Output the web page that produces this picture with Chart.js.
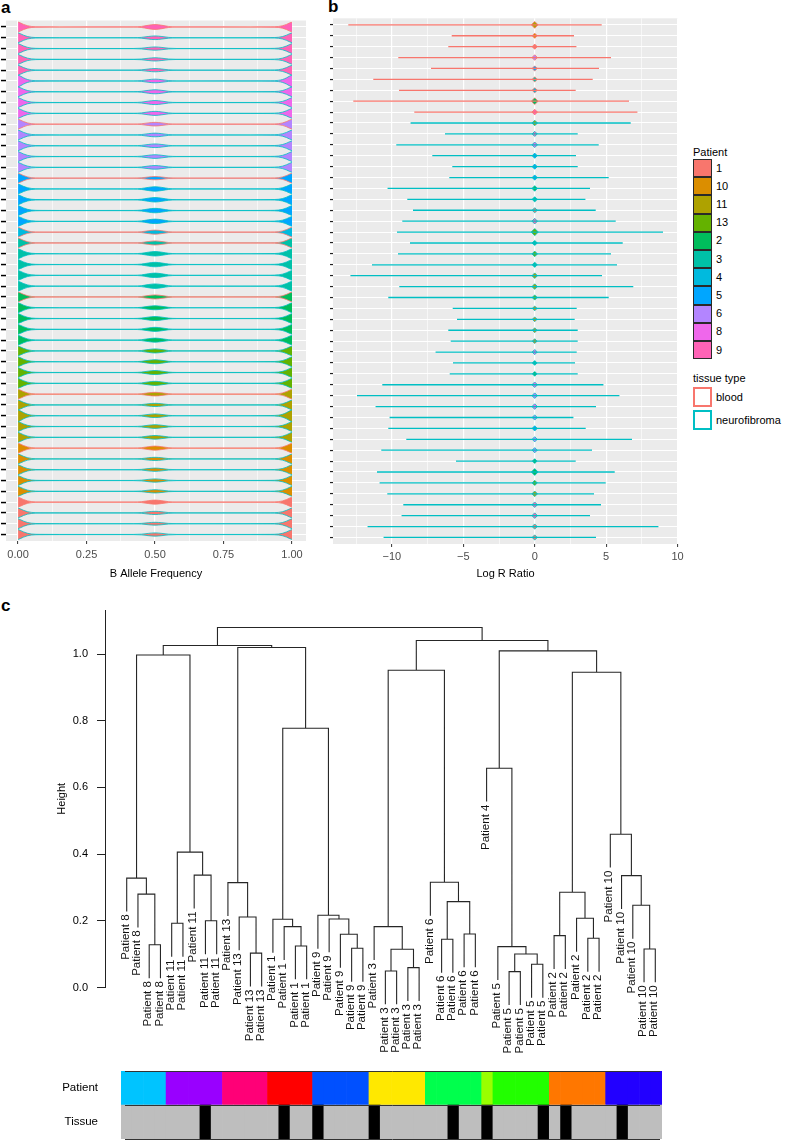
<!DOCTYPE html>
<html>
<head>
<meta charset="utf-8">
<script src="https://cdn.jsdelivr.net/npm/chart.js@4.4.1/dist/chart.umd.min.js"></script>
<style>
  body { margin: 0; width: 787px; height: 1146px; position: relative; background: #fff; overflow: hidden;
         font-family: 'Liberation Sans', Arial, Helvetica, sans-serif; }
  canvas { position: absolute; }
  .tag { position: absolute; font-weight: bold; font-size: 17px; line-height: 1; }
  .lg { position: absolute; font-size: 11px; line-height: 1; color: #000; white-space: nowrap; }
  .key { position: absolute; box-sizing: border-box; }
</style>
</head>
<body>
<div class="tag" style="left:1px;top:-1px">a</div>
<div class="tag" style="left:328px;top:-2px">b</div>
<div class="tag" style="left:1px;top:597px">c</div>

<canvas id="chartBaf" width="320" height="585" style="left:0;top:0"></canvas>
<canvas id="chartLrr" width="370" height="585" style="left:320px;top:0"></canvas>
<div id="legend"></div>
<canvas id="chartTree" width="787" height="470" style="left:0;top:590px"></canvas>
<canvas id="chartBands" width="787" height="86" style="left:0;top:1060px"></canvas>

<script>
// Patient / tissue levels (ggplot order) and their colours
const patientLevels = ['1', '10', '11', '13', '2', '3', '4', '5', '6', '8', '9'];
const patientFill = ['#F8766D', '#DB8E00', '#AEA200', '#64B200', '#00BD5C', '#00C1A7',
                     '#00BADE', '#00A6FF', '#B385FF', '#EF67EB', '#FF63B6'];
const tissueLevels = ['blood', 'neurofibroma'];
const tissueLine = ['#F8766D', '#00BFC4'];
const B = 'blood', N = 'neurofibroma';

// Panel a: rows top -> bottom
const bafPatient = [9, 9, 9, 9, 9, 8, 8, 8, 8, 6, 6, 6, 6, 6, 5, 5, 5, 5, 5, 4,
                    3, 3, 3, 3, 3, 2, 2, 2, 2, 2, 13, 13, 13, 13, 11, 11, 11, 11, 11,
                    10, 10, 10, 10, 10, 1, 1, 1, 1];
const bafTissue = [B, N, N, N, N, N, N, N, N, B, N, N, N, N, B, N, N, N, N, B,
                   B, N, N, N, N, B, N, N, N, N, N, N, N, N, B, N, N, N, N,
                   B, N, N, N, N, B, N, N, N];
// violin half-width (row units) along B allele frequency
const bafGrid  = [0, 0.01, 0.02, 0.035, 0.05, 0.08, 0.15, 0.42, 0.45, 0.475, 0.5, 0.525, 0.55, 0.58,
                  0.85, 0.92, 0.95, 0.965, 0.98, 0.99, 1];
const bafShape = [0.46, 0.36, 0.24, 0.11, 0.045, 0.015, 0.008, 0.01, 0.04, 0.13, 0.19, 0.13, 0.04, 0.01,
                  0.008, 0.015, 0.045, 0.11, 0.24, 0.36, 0.46];
const bafEndScale = [1, 1, 1, 1, 1, 1.2, 1, 1, 1, 1, 1, 1, 1, 1, 1, 1, 1, 1, 1, 1,
                     1, 1, 1, 1, 1, 1, 1, 1, 1, 1, 1, 1, 1, 1, 1, 1, 1.2, 1, 1,
                     1, 1, 1, 1, 1, 1, 1, 1, 1];
const bafMidScale = [1.2, 0.9, 0.8, 0.8, 0.8, 0.9, 1, 1, 1, 0.9, 0.9, 0.9, 0.9, 0.9, 0.8, 1.1, 1.1, 1.1, 1.1, 1,
                     1, 1.1, 1.1, 1.1, 1.1, 1, 1, 1, 1, 1, 1, 1, 1, 1, 0.9, 0.8, 0.9, 0.9, 0.9,
                     1, 0.8, 0.8, 0.8, 0.8, 1, 0.8, 0.7, 0.8];
const bafTicks = [0, 0.125, 0.25, 0.375, 0.5, 0.625, 0.75, 0.875, 1];
const bafTickLabels = ['0.00', '', '0.25', '', '0.50', '', '0.75', '', '1.00'];

// Panel b: rows top -> bottom
const lrrMin = [-13.05, -5.81, -6.05, -9.55, -7.26, -11.3, -9.5, -12.7, -8.43, -8.69, -6.28, -9.69,
                -7.17, -5.77, -5.98, -10.3, -8.92, -8.52, -9.27, -9.64, -8.73, -9.57, -11.39, -12.9,
                -9.48, -10.25, -5.74, -5.44, -6.05, -5.88, -6.94, -5.72, -5.95, -10.67, -12.44, -11.14,
                -10.16, -10.25, -8.99, -10.74, -5.51, -11.04, -10.86, -10.32, -9.2, -9.32, -11.7, -10.58];
const lrrMax = [4.69, 2.75, 2.92, 5.34, 4.5, 4.06, 2.87, 6.6, 7.19, 6.72, 3.01, 4.48,
                2.89, 3.01, 5.18, 3.87, 3.55, 4.27, 5.67, 8.98, 6.16, 5.34, 5.76, 4.71,
                6.9, 5.18, 2.94, 2.8, 3.01, 3.01, 2.94, 2.82, 3.01, 4.81, 5.93, 4.29,
                2.71, 3.57, 6.81, 4.01, 2.87, 5.6, 4.97, 4.15, 4.64, 3.87, 8.66, 4.29];
const lrrPatient = [11, 10, 1, 6, 5, 3, 4, 2, 9, 11, 9, 8, 5, 5, 5, 2, 3, 1, 9, 13, 3, 13, 3, 11,
                    11, 13, 10, 10, 10, 10, 8, 3, 2, 8, 6, 8, 6, 5, 6, 6, 2, 2, 13, 11, 9, 9, 1, 1];
const lrrTissue = [B, B, B, B, B, B, B, B, B, N, N, N, N, N, N, N, N, N, N, N, N, N, N, N,
                   N, N, N, N, N, N, N, N, N, N, N, N, N, N, N, N, N, N, N, N, N, N, N, N];
const lrrCenterSize = [3.4, 2.6, 2.6, 2.8, 2.6, 2.6, 2.6, 3.4, 2.8, 2.8, 2.6, 2.8, 2.6, 2.6, 2.6, 2.8,
                       2.6, 2.6, 2.8, 3.6, 2.6, 2.8, 2.6, 2.8, 2.8, 2.6, 2.4, 2.4, 2.4, 2.4, 2.6, 2.4,
                       2.4, 2.8, 2.8, 2.8, 2.6, 2.6, 2.6, 2.6, 2.4, 3.4, 2.6, 2.8, 2.8, 2.8, 2.6, 2.6];
const lrrTicks = [-12.5, -10, -7.5, -5, -2.5, 0, 2.5, 5, 7.5, 10];
const lrrTickLabels = ['', '\u221210', '', '\u22125', '', '0', '', '5', '', '10'];

// Panel c: leaves left -> right, hclust-style merges (negative = leaf position)
const leafPatient = [8, 8, 8, 8, 11, 11, 11, 11, 11, 13, 13, 13, 13, 1, 1, 1, 1, 9, 9, 9, 9, 9,
                     3, 3, 3, 3, 3, 6, 6, 6, 6, 6, 4, 5, 5, 5, 5, 5, 2, 2, 2, 2, 2, 10, 10, 10, 10, 10];
const leafTissue = [N, N, N, N, N, N, N, B, N, N, N, N, N, N, B, N, N, B, N, N, N, N,
                    B, N, N, N, N, N, N, B, N, N, B, N, N, N, N, B, N, B, N, N, N, N, B, N, N, N];
const mergeLeft = [-3, -2, -1, -5, -8, -7, 4, 3, -12, -11, -10, -16, -15, -14, -21, -20, -19, -18,
                   14, 11, 8, -24, -26, 22, -23, -29, -31, 26, -28, 25, -35, -37, 31, -34, -33,
                   -39, -42, -41, 36, -47, -46, -45, -44, 39, 35, 30, 21];
const mergeRight = [-4, 1, 2, -6, -9, 5, 6, 7, -13, 9, 10, -17, 12, 13, -22, 15, 16, 17,
                    18, 19, 20, -25, -27, 23, 24, -30, -32, 27, 28, 29, -36, -38, 32, 33, 34,
                    -40, -43, 37, 38, -48, 40, 41, 42, 43, 44, 45, 46];
const mergeHeight = [0.128, 0.280, 0.328, 0.1925, 0.200, 0.337, 0.406, 0.997, 0.103, 0.2115, 0.3145,
                     0.1245, 0.1825, 0.2045, 0.1175, 0.1595, 0.2055, 0.2165, 0.7775, 1.0195, 1.0255,
                     0.0495, 0.0595, 0.1145, 0.1825, 0.1445, 0.1605, 0.2575, 0.3155, 0.9515,
                     0.0475, 0.0695, 0.1005, 0.1225, 0.6575, 0.1555, 0.1475, 0.2075, 0.2855,
                     0.1155, 0.2465, 0.3355, 0.4595, 0.9455, 1.0095, 1.0405, 1.0795];
const hang = 0.1;
const heightTicks = [0, 0.2, 0.4, 0.6, 0.8, 1.0];

// Colour bars under the dendrogram
const barPatients = ['8', '11', '13', '1', '9', '3', '6', '4', '5', '2', '10'];
const barPatientColors = ['#00C4FF', '#9900FF', '#FF0077', '#FF0000', '#0050FF', '#FFE800',
                          '#00FF4D', '#99FF00', '#22FF00', '#FF7700', '#2200FF'];
const bandRows = ['Tissue', 'Patient'];
const bandEdges = [0, 1, 2];

Chart.defaults.font.family = "'Liberation Sans', Arial, Helvetica, sans-serif";
Chart.defaults.font.size = 11;
Chart.defaults.color = '#4d4d4d';
Chart.defaults.animation = false;
Chart.defaults.responsive = false;
Chart.defaults.maintainAspectRatio = false;
Chart.defaults.devicePixelRatio = 1;
Chart.defaults.plugins.legend.display = false;
Chart.defaults.plugins.tooltip.enabled = false;

const fillOf = p => patientFill[patientLevels.indexOf(String(p))];
const lineOf = t => tissueLine[tissueLevels.indexOf(t)];

// grey ggplot panel
const panelBg = {
  id: 'panelBg',
  beforeDraw(chart, args, opts) {
    if (!opts.color) return;
    const { ctx, chartArea: a } = chart;
    ctx.save();
    ctx.fillStyle = opts.color;
    ctx.fillRect(a.left, a.top, a.right - a.left, a.bottom - a.top);
    ctx.restore();
  }
};

const rowValues = bafPatient.map((p, i) => i + 1);

function rowAxis(width, tickColor, tickLength, tickWidth) {
  return {
    type: 'linear', reverse: true, min: 0.4, max: 48.6,
    afterBuildTicks: s => { s.ticks = rowValues.map(v => ({ value: v })); },
    afterFit: s => { s.width = width; },
    ticks: { autoSkip: false, callback: () => '' },
    grid: { color: '#fff', lineWidth: 1.1, tickLength, tickColor, tickWidth },
    border: { display: false }
  };
}

// ---------- Panel a: B allele frequency violins ----------
const bafDatasets = [];
bafPatient.forEach((p, i) => {
  const r = i + 1;
  const hw = bafGrid.map((x, k) => bafShape[k] * (x > 0.3 && x < 0.7 ? bafMidScale[i] : bafEndScale[i]));
  const line = lineOf(bafTissue[i]);
  bafDatasets.push({
    data: bafGrid.map((x, k) => ({ x, y: r - hw[k] })),
    borderColor: line, borderWidth: 0.8, pointRadius: 0, fill: false,
    cubicInterpolationMode: 'monotone'
  });
  bafDatasets.push({
    data: bafGrid.map((x, k) => ({ x, y: r + hw[k] })),
    borderColor: line, borderWidth: 0.8, pointRadius: 0, fill: '-1',
    backgroundColor: fillOf(p), cubicInterpolationMode: 'monotone'
  });
});

new Chart(document.getElementById('chartBaf'), {
  type: 'line',
  data: { datasets: bafDatasets },
  plugins: [panelBg],
  options: {
    layout: { padding: { left: 0, right: 14, top: 20.5, bottom: 0 } },
    plugins: { panelBg: { color: '#EBEBEB' } },
    scales: {
      x: {
        type: 'linear', min: -0.044, max: 1.051,
        afterBuildTicks: s => { s.ticks = bafTicks.map(v => ({ value: v })); },
        afterFit: s => { s.height = 44; },
        ticks: { autoSkip: false, maxRotation: 0, padding: 4, color: '#4d4d4d',
                 callback: (v, i) => bafTickLabels[i] },
        grid: {
          color: '#fff',
          lineWidth: c => (bafTickLabels[c.index] ? 1.2 : 0.6),
          tickLength: 3, tickWidth: 1,
          tickColor: c => (bafTickLabels[c.index] ? '#333' : 'rgba(0,0,0,0)')
        },
        border: { display: false },
        title: { display: true, text: 'B Allele Frequency', color: '#000', font: { size: 11 },
                 padding: { top: 0, bottom: 4.4 } }
      },
      y: rowAxis(6, '#000', 5, 1.5)
    }
  }
});

// ---------- Panel b: Log R ratio ----------
const lrrDatasets = lrrMin.map((lo, i) => ({
  data: [{ x: lo, y: i + 1 }, { x: lrrMax[i], y: i + 1 }],
  borderColor: lineOf(lrrTissue[i]), borderWidth: 1.3, pointRadius: 0
}));
lrrDatasets.push({
  data: lrrPatient.map((p, i) => ({ x: 0, y: i + 1 })),
  showLine: false,
  pointStyle: 'rectRot',
  pointRadius: lrrCenterSize,
  pointBackgroundColor: lrrPatient.map(fillOf),
  pointBorderColor: lrrTissue.map(lineOf),
  pointBorderWidth: 0.8
});

new Chart(document.getElementById('chartLrr'), {
  type: 'line',
  data: { datasets: lrrDatasets },
  plugins: [panelBg],
  options: {
    layout: { padding: { left: 0, right: 12, top: 18.3, bottom: 0 } },
    plugins: { panelBg: { color: '#EBEBEB' } },
    scales: {
      x: {
        type: 'linear', min: -14.12, max: 10.03,
        afterBuildTicks: s => { s.ticks = lrrTicks.map(v => ({ value: v })); },
        afterFit: s => { s.height = 41; },
        ticks: { autoSkip: false, maxRotation: 0, padding: 3, color: '#4d4d4d',
                 callback: (v, i) => lrrTickLabels[i] },
        grid: {
          color: '#fff',
          lineWidth: c => (lrrTickLabels[c.index] ? 1.2 : 0.6),
          tickLength: 3, tickWidth: 1,
          tickColor: c => (lrrTickLabels[c.index] ? '#333' : 'rgba(0,0,0,0)')
        },
        border: { display: false },
        title: { display: true, text: 'Log R Ratio', color: '#000', font: { size: 11 },
                 padding: { top: 0, bottom: 4.4 } }
      },
      y: rowAxis(13, '#222', 3, 1.2)
    }
  }
});

// ---------- Legend ----------
const legend = document.getElementById('legend');
function addText(text, left, top) {
  const d = document.createElement('div');
  d.className = 'lg';
  d.style.left = left + 'px';
  d.style.top = top + 'px';
  d.textContent = text;
  legend.appendChild(d);
}
function addKey(left, top, w, h, bg, border, bw) {
  const d = document.createElement('div');
  d.className = 'key';
  Object.assign(d.style, { left: left + 'px', top: top + 'px', width: w + 'px', height: h + 'px',
                           background: bg, border: bw + 'px solid ' + border });
  legend.appendChild(d);
}
addText('Patient', 693, 147);
patientLevels.forEach((p, i) => {
  const top = 159 + i * 18.2;
  addKey(693, top, 18.5, 18.2, patientFill[i], '#2a2a2a', 1.6);
  addText(p, 716, top + 3.5);
});
addText('tissue type', 693, 373);
tissueLevels.forEach((t, i) => {
  const top = 387 + i * 23;
  addKey(693, top, 18.5, 19.5, '#fff', tissueLine[i], 2);
  addText(t, 716, top + 4.5);
});

// ---------- Panel c: dendrogram ----------
const nodeX = [];
const leafEnd = [];
const treePoints = [];
const childX = c => (c < 0 ? -c : nodeX[c - 1]);
mergeHeight.forEach((h, k) => {
  const l = mergeLeft[k], r = mergeRight[k];
  const xl = childX(l), xr = childX(r);
  const yl = l < 0 ? h - hang : mergeHeight[l - 1];
  const yr = r < 0 ? h - hang : mergeHeight[r - 1];
  if (l < 0) leafEnd[-l - 1] = yl;
  if (r < 0) leafEnd[-r - 1] = yr;
  nodeX[k] = (xl + xr) / 2;
  treePoints.push({ x: xl, y: yl }, { x: xl, y: h }, { x: xr, y: h }, { x: xr, y: yr }, { x: xr, y: null });
});

const leafLabels = {
  id: 'leafLabels',
  afterDatasetsDraw(chart) {
    const { ctx, scales: { x, y } } = chart;
    ctx.save();
    ctx.font = "11.5px 'Liberation Sans', Arial, sans-serif";
    ctx.fillStyle = '#111';
    ctx.textAlign = 'right';
    ctx.textBaseline = 'middle';
    leafPatient.forEach((p, j) => {
      ctx.save();
      ctx.translate(x.getPixelForValue(j + 1) - 1, y.getPixelForValue(leafEnd[j]) + 3);
      ctx.rotate(-Math.PI / 2);
      ctx.fillText('Patient ' + p, 0, 0);
      ctx.restore();
    });
    ctx.restore();
  }
};

new Chart(document.getElementById('chartTree'), {
  type: 'line',
  data: {
    datasets: [{
      data: treePoints, borderColor: '#262626', borderWidth: 1.1, pointRadius: 0,
      spanGaps: false, clip: false
    }]
  },
  plugins: [leafLabels],
  options: {
    layout: { padding: { left: 0, right: 87, top: 20, bottom: 72.5 } },
    scales: {
      x: { type: 'linear', min: -0.93, max: 51.975, display: false },
      y: {
        type: 'linear', min: 0, max: 1.132,
        afterBuildTicks: s => { s.ticks = heightTicks.map(v => ({ value: v })); },
        afterFit: s => { s.width = 105; },
        ticks: { autoSkip: false, padding: 9, color: '#000', callback: v => v.toFixed(1) },
        grid: { drawOnChartArea: false, tickLength: 8, tickColor: '#222', tickWidth: 1 },
        border: { display: true, color: '#222', width: 1 },
        title: { display: true, text: 'Height', color: '#000', font: { size: 11 },
                 padding: { top: 55.4, bottom: 0 } }
      }
    }
  }
});

// ---------- Colour bars ----------
const bandLines = {
  id: 'bandLines',
  afterDatasetsDraw(chart) {
    const { ctx, chartArea: a, scales: { y } } = chart;
    ctx.save();
    ctx.strokeStyle = '#333';
    ctx.lineWidth = 1;
    bandEdges.forEach(v => {
      const py = Math.round(y.getPixelForValue(v)) + 0.5;
      ctx.beginPath();
      ctx.moveTo(a.left + 4, py);
      ctx.lineTo(a.right - 2, py);
      ctx.stroke();
    });
    ctx.restore();
  }
};

const sampleIds = leafPatient.map((p, j) => 'S' + (j + 1));
new Chart(document.getElementById('chartBands'), {
  type: 'bar',
  data: {
    labels: sampleIds,
    datasets: [
      { label: 'Tissue', data: leafTissue.map(() => 1),
        backgroundColor: leafTissue.map(t => (t === B ? '#000000' : '#BEBEBE')) },
      { label: 'Patient', data: leafPatient.map(() => 1),
        backgroundColor: leafPatient.map(p => barPatientColors[barPatients.indexOf(String(p))]) }
    ]
  },
  plugins: [bandLines],
  options: {
    layout: { padding: { left: 0, right: 125, top: 11, bottom: 1 } },
    datasets: { bar: { barPercentage: 1, categoryPercentage: 1, borderWidth: 0 } },
    scales: {
      x: { stacked: true, display: false },
      y: {
        stacked: true, min: 0, max: 2,
        afterBuildTicks: s => { s.ticks = [{ value: 0.5 }, { value: 1.5 }]; },
        afterFit: s => { s.width = 121; },
        ticks: { padding: 0, color: '#000', font: { size: 11.5 }, callback: (v, i) => bandRows[i] },
        grid: { display: false, drawTicks: true, tickLength: 23 },
        border: { display: false }
      }
    }
  }
});
</script>
</body>
</html>
